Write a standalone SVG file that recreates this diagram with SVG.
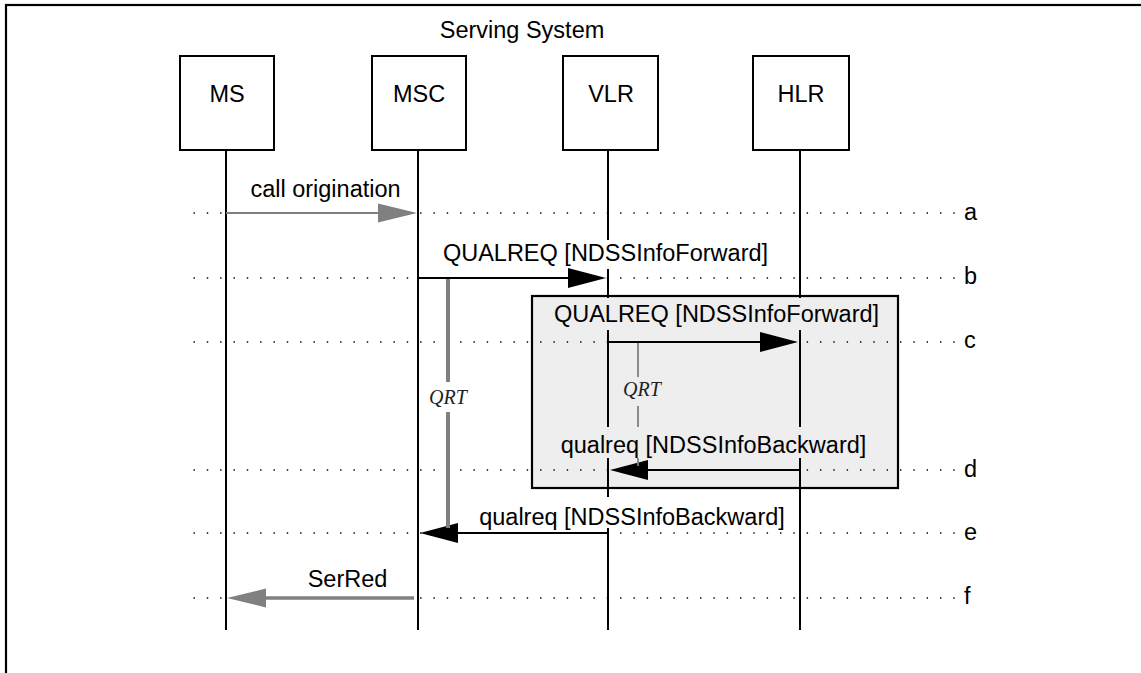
<svg xmlns="http://www.w3.org/2000/svg" width="1141" height="673" viewBox="0 0 1141 673">
<style>
.t{font-family:"Liberation Sans",Arial,sans-serif;font-size:23.5px;fill:#000}
.m{text-anchor:middle}
.q{font-family:"Liberation Serif","Times New Roman",serif;font-style:italic;font-size:20px;fill:#222;text-anchor:middle}
.box{fill:#fff;stroke:#000;stroke-width:2}
.life{stroke:#000;stroke-width:2}
.dots{stroke:#000;stroke-width:1.3;stroke-dasharray:1.4 11.93;fill:none}
.ab{stroke:#000;stroke-width:2}
.ag{stroke:#808080;stroke-width:2}
.ag3{stroke:#808080;stroke-width:3.3}
</style>
<defs>
<marker id="hb" markerUnits="userSpaceOnUse" markerWidth="40" markerHeight="22" refX="30" refY="10" orient="auto" viewBox="0 0 40 22" overflow="visible">
<path d="M0,0 L38,10 L0,20 z" fill="#000"/>
</marker>
<marker id="hg" markerUnits="userSpaceOnUse" markerWidth="42" markerHeight="22" refX="30" refY="9.5" orient="auto" viewBox="0 0 42 22" overflow="visible">
<path d="M0,0 L39,9.5 L0,19 z" fill="#808080"/>
</marker>
</defs>

<rect x="6" y="5" width="1200" height="800" fill="#fff" stroke="#000" stroke-width="2.2"/>
<text class="t m" x="522" y="37.5">Serving System</text>

<rect id="region" x="532" y="296" width="366" height="192" fill="#eeeeee" stroke="#000" stroke-width="2.2"/>

<g id="rows">
<line class="dots" x1="193.5" y1="213" x2="956" y2="213"/>
<line class="dots" x1="193.5" y1="278" x2="956" y2="278"/>
<line class="dots" x1="193.5" y1="342" x2="956" y2="342"/>
<line class="dots" x1="193.5" y1="470" x2="956" y2="470"/>
<line class="dots" x1="193.5" y1="533" x2="956" y2="533"/>
<line class="dots" x1="193.5" y1="598" x2="956" y2="598"/>
<text class="t" x="964" y="220">a</text>
<text class="t" x="964" y="284">b</text>
<text class="t" x="964" y="348">c</text>
<text class="t" x="964" y="477">d</text>
<text class="t" x="964" y="540">e</text>
<text class="t" x="964" y="604">f</text>
</g>

<g id="MS">
<rect class="box" x="180" y="56" width="94" height="94"/>
<text class="t m" x="227" y="102">MS</text>
<line class="life" x1="226" y1="150" x2="226" y2="630"/>
</g>
<g id="MSC">
<rect class="box" x="372" y="56" width="94" height="94"/>
<text class="t m" x="419" y="102">MSC</text>
<line class="life" x1="418" y1="150" x2="418" y2="630"/>
</g>
<g id="VLR">
<rect class="box" x="563" y="56" width="95" height="94"/>
<text class="t m" x="611" y="102">VLR</text>
<line class="life" x1="608" y1="150" x2="608" y2="630"/>
</g>
<g id="HLR">
<rect class="box" x="753" y="56" width="96" height="94"/>
<text class="t m" x="801" y="102">HLR</text>
<line class="life" x1="800" y1="150" x2="800" y2="630"/>
</g>

<g id="labelbg">
<rect x="436" y="240" width="340" height="29" fill="#fff"/>
<rect x="549" y="298" width="336" height="32" fill="#eeeeee"/>
<rect x="553" y="427" width="322" height="31" fill="#eeeeee"/>
<rect x="472" y="497" width="322" height="31" fill="#fff"/>
</g>

<g id="connectors">
<line class="ag" x1="226" y1="213" x2="408" y2="213" marker-end="url(#hg)"/>
<line class="ab" x1="418" y1="278" x2="598" y2="278" marker-end="url(#hb)"/>
<line class="ab" x1="608" y1="342" x2="790" y2="342" marker-end="url(#hb)"/>
<line class="ab" x1="800" y1="470" x2="618" y2="470" marker-end="url(#hb)"/>
<line class="ab" x1="608" y1="533" x2="428" y2="533" marker-end="url(#hb)"/>
<line class="ag3" x1="414" y1="598" x2="236" y2="598" marker-end="url(#hg)"/>
<g id="qrt-outer">
<line x1="448" y1="279" x2="448" y2="382" stroke="#808080" stroke-width="4"/>
<line x1="448" y1="412" x2="448" y2="528" stroke="#808080" stroke-width="4"/>
<text class="q" x="448" y="404">QRT</text>
</g>
<g id="qrt-inner">
<line x1="638" y1="343" x2="638" y2="377" stroke="#808080" stroke-width="1.8"/>
<line x1="638" y1="406" x2="638" y2="427" stroke="#808080" stroke-width="1.8"/>
<line x1="638" y1="458" x2="638" y2="466" stroke="#808080" stroke-width="1.8"/>
<text class="q" x="642" y="396">QRT</text>
</g>
</g>

<g id="labels">
<text class="t m" x="325.5" y="197">call origination</text>
<text class="t m" x="605.5" y="261">QUALREQ [NDSSInfoForward]</text>
<text class="t m" x="716.5" y="322">QUALREQ [NDSSInfoForward]</text>
<text class="t m" x="713.5" y="453">qualreq [NDSSInfoBackward]</text>
<text class="t m" x="632" y="525">qualreq [NDSSInfoBackward]</text>
<text class="t m" x="347.5" y="587">SerRed</text>
</g>
</svg>
